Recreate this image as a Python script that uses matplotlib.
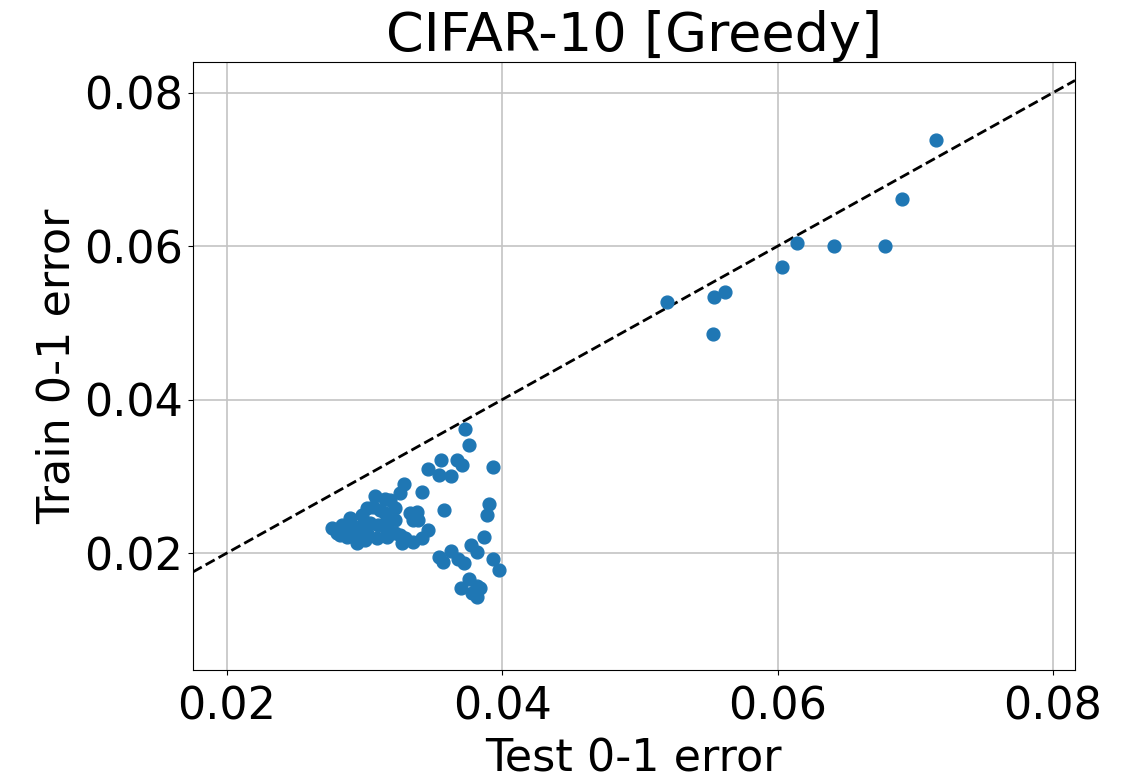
import numpy as np
import matplotlib
matplotlib.use('Agg')
import matplotlib.pyplot as plt

# test / train 0-1 error of each run
test_err = [
    # dense group on the left
    0.02762, 0.02799, 0.02835, 0.02871, 0.02893, 0.02944, 0.02966, 0.03016,
    0.03038, 0.03060, 0.03089, 0.03074, 0.03147, 0.03162, 0.03147, 0.03183,
    0.03111, 0.03162, 0.03220, 0.03162, 0.03256, 0.03270, 0.03350, 0.03416,
    0.03459, 0.03328, 0.03379, 0.03350, 0.03387, 0.03285, 0.03256, 0.03416,
    0.02857, 0.02929, 0.03002, 0.02980, 0.03220, 0.03292, 0.02820, 0.03096,
    0.03220, 0.03016, 0.02908,
    # scattered middle points
    0.03728, 0.03757, 0.03559, 0.03459, 0.03539, 0.03626, 0.03670, 0.03706,
    0.03931, 0.03575, 0.03902, 0.03887, 0.03866, 0.03771, 0.03815, 0.03539,
    0.03568, 0.03626, 0.03677, 0.03721, 0.03931, 0.03975,
    0.03699, 0.03757, 0.03815, 0.03779, 0.03815, 0.03837,
    # upper right
    0.0520, 0.0554, 0.0562, 0.0553, 0.0603, 0.0614, 0.0641, 0.0678,
    0.0690, 0.0715,
]
train_err = [
    0.02326, 0.02261, 0.02365, 0.02208, 0.02456, 0.02130, 0.02339, 0.02586,
    0.02391, 0.02599, 0.02195, 0.02743, 0.02521, 0.02300, 0.02704, 0.02691,
    0.02560, 0.02430, 0.02261, 0.02208, 0.02235, 0.02130, 0.02143, 0.02195,
    0.02300, 0.02521, 0.02534, 0.02430, 0.02430, 0.02899, 0.02782, 0.02795,
    0.02300, 0.02274, 0.02169, 0.02495, 0.02430, 0.02195, 0.02235, 0.02365,
    0.02586, 0.02261, 0.02365,
    0.03616, 0.03407, 0.03212, 0.03094, 0.03016, 0.03003, 0.03212, 0.03147,
    0.03121, 0.02560, 0.02638, 0.02495, 0.02208, 0.02104, 0.02013, 0.01948,
    0.01883, 0.02026, 0.01922, 0.01870, 0.01922, 0.01779,
    0.01544, 0.01661, 0.01570, 0.01479, 0.01427, 0.01544,
    0.0527, 0.0534, 0.0540, 0.0485, 0.0573, 0.0604, 0.0600, 0.0600,
    0.0661, 0.0738,
]
ticks = [0.02, 0.04, 0.06, 0.08]

xlim = (0.01753, 0.0816)
ylim = (0.00476, 0.0840)

fig = plt.figure(figsize=(11.34, 7.84), dpi=100)
ax = fig.add_axes([0.170, 0.1454, 0.778, 0.7755])

ax.scatter(test_err, train_err, s=85, color='#1f77b4', zorder=3)
ax.plot(xlim, xlim, 'k--', linewidth=2, zorder=2)

ax.set_xlim(xlim)
ax.set_ylim(ylim)
ax.set_xticks(ticks)
ax.set_yticks(ticks)
ax.tick_params(labelsize=32)
ax.tick_params(axis='x', pad=8)
ax.grid(True, color='#c4c4c4', linewidth=1.2)
ax.set_axisbelow(True)

ax.set_xlabel('Test 0-1 error', fontsize=32, labelpad=6)
ax.set_ylabel('Train 0-1 error', fontsize=32)
ax.set_title('CIFAR-10 [Greedy]', fontsize=39, pad=4)

fig.savefig('out.png', dpi=100)
